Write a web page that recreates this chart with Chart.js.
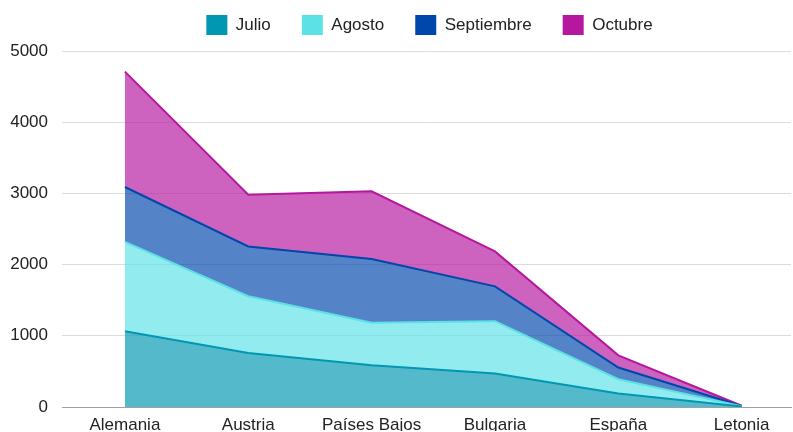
<!DOCTYPE html>
<html>
<head>
<meta charset="utf-8">
<script src="https://cdn.jsdelivr.net/npm/chart.js@4.4.1/dist/chart.umd.min.js"></script>
<style>
  html, body { margin: 0; padding: 0; background: #fff; }
  #wrap { width: 793px; height: 432px; position: relative; }
</style>
</head>
<body>
<div id="wrap"><canvas id="areaChart"></canvas></div>
<script>
// Data
const countries = ['Alemania', 'Austria', 'Países Bajos', 'Bulgaria', 'España', 'Letonia'];
const julio = [1065, 760, 585, 470, 190, 8];
const agosto = [1255, 795, 600, 735, 200, 4];
const septiembre = [770, 700, 895, 490, 165, 3];
const octubre = [1620, 725, 950, 490, 170, 2];
const yTicks = [0, 1000, 2000, 3000, 4000, 5000];

// Theme colors
const colors = {
    julio: '#0097b2',
    agosto: '#5ce1e6',
    septiembre: '#0047ab',
    octubre: '#b5179e',
    text: '#222',
    grid: '#dcdcdc',
    axis: '#a0a0a0'
};

function hexToRgba(hex, a) {
    const n = parseInt(hex.slice(1), 16);
    return 'rgba(' + (n >> 16) + ',' + ((n >> 8) & 255) + ',' + (n & 255) + ',' + a + ')';
}

function series(label, values, color, fill) {
    return {
        label: label,
        data: values.map((v, i) => ({ x: i, y: v })),
        borderColor: color,
        backgroundColor: hexToRgba(color, 0.67),
        solidColor: color,
        fill: fill,
        tension: 0,
        borderWidth: 2,
        pointRadius: 0
    };
}

// push the plot a few pixels below the legend, and center the legend over the plot
const legendSpacer = {
    id: 'legendSpacer',
    beforeInit(chart) {
        const fit = chart.legend.fit;
        chart.legend.fit = function() {
            fit.bind(chart.legend)();
            this.height += 6;
        };
    },
    afterLayout(chart) {
        chart.legend.left += 29;
        chart.legend.right += 29;
    }
};

const ctx = document.getElementById('areaChart').getContext('2d');
const font = { family: '"Liberation Sans", Arial, sans-serif', size: 17 };

new Chart(ctx, {
    type: 'line',
    data: {
        datasets: [
            series('Julio', julio, colors.julio, 'origin'),
            series('Agosto', agosto, colors.agosto, '-1'),
            series('Septiembre', septiembre, colors.septiembre, '-1'),
            series('Octubre', octubre, colors.octubre, '-1')
        ]
    },
    plugins: [legendSpacer],
    options: {
        responsive: true,
        maintainAspectRatio: false,
        animation: false,
        layout: {
            padding: { top: -16, left: 10, right: 2, bottom: 1 }
        },
        plugins: {
            legend: {
                position: 'top',
                labels: {
                    boxWidth: 21,
                    boxHeight: 20,
                    padding: 31,
                    color: colors.text,
                    font: font,
                    generateLabels: function(chart) {
                        const items = Chart.defaults.plugins.legend.labels.generateLabels(chart);
                        items.forEach(item => {
                            const c = chart.data.datasets[item.datasetIndex].solidColor;
                            item.fillStyle = c;
                            item.strokeStyle = c;
                            item.lineWidth = 0;
                        });
                        return items;
                    }
                }
            },
            tooltip: { enabled: false }
        },
        scales: {
            x: {
                type: 'linear',
                min: -0.51,
                max: 5.4,
                grid: { display: false, drawTicks: false },
                border: { color: colors.axis, width: 1 },
                afterBuildTicks: function(axis) {
                    axis.ticks = countries.map((c, i) => ({ value: i }));
                },
                afterFit: function(axis) {
                    axis.height = 24;
                    axis.paddingLeft = 0;
                    axis.paddingRight = 0;
                },
                ticks: {
                    color: colors.text,
                    font: Object.assign({ lineHeight: 1 }, font),
                    padding: 10,
                    maxRotation: 0,
                    autoSkip: false,
                    callback: function(value) {
                        return countries[value];
                    }
                }
            },
            y: {
                stacked: true,
                min: 0,
                max: 5000,
                afterBuildTicks: function(axis) {
                    axis.ticks = yTicks.map(v => ({ value: v }));
                },
                afterFit: function(axis) {
                    axis.width = 52;
                },
                grid: { color: colors.grid, drawTicks: false },
                border: { display: false },
                ticks: {
                    color: colors.text,
                    font: font,
                    padding: 14,
                    callback: function(value) {
                        return String(value);
                    }
                }
            }
        }
    }
});
</script>
</body>
</html>
